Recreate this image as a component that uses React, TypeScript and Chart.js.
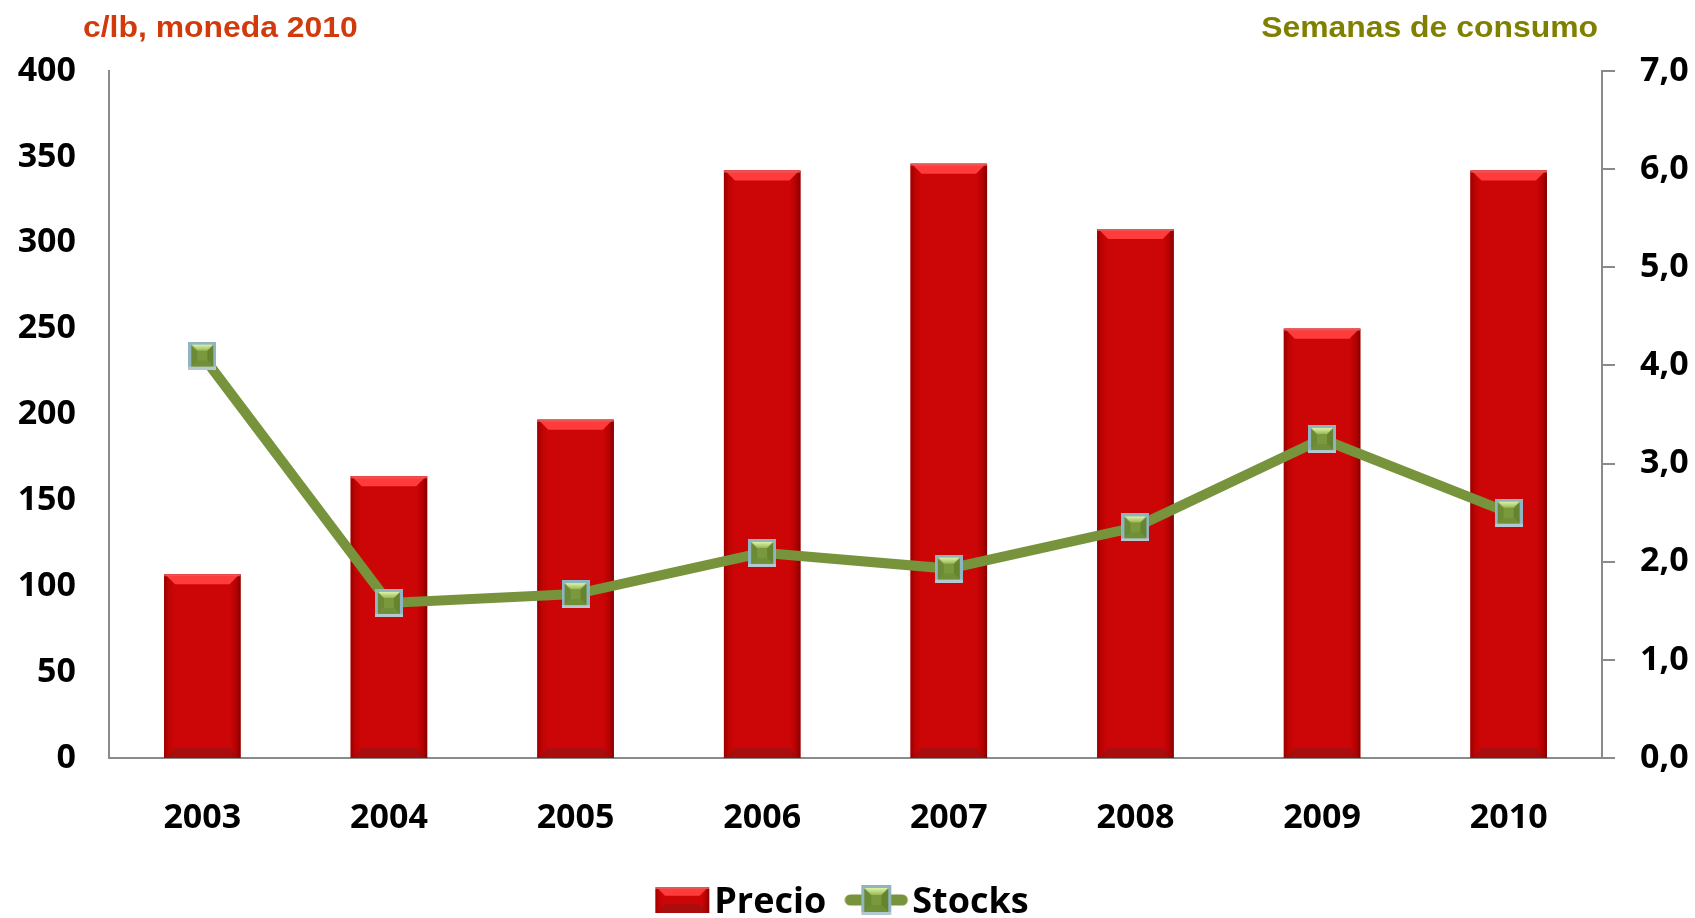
import React, { useEffect, useRef } from "react";
import { Chart, registerables } from "chart.js";

Chart.register(...registerables);

const categories = ["2003", "2004", "2005", "2006", "2007", "2008", "2009", "2010"];
const precio = [107, 164, 197, 342, 346, 308, 250, 342];
const stocks = [4.1, 1.58, 1.67, 2.09, 1.93, 2.35, 3.25, 2.5];
const seriesNames = ["Precio", "Stocks"];
const leftAxisTitle = "c/lb, moneda 2010";
const rightAxisTitle = "Semanas de consumo";
const leftRange = [0, 400, 50];
const rightRange = [0, 7, 1];

const TICK_FONT = { family: "'Open Sans', 'Liberation Sans', sans-serif", size: 34, weight: "bold" as const };
const AXIS_GRAY = "#8a8a8a";

function makeMarker(size: number): HTMLCanvasElement {
  const c = document.createElement("canvas");
  c.width = size;
  c.height = size;
  const g = c.getContext("2d")!;
  const b = 3;
  g.fillStyle = "#8FB5C2";
  g.fillRect(0, 0, size, size);
  g.fillStyle = "#B3C8D0";
  g.fillRect(0, size - b, size, b);
  g.fillStyle = "#7A983C";
  g.fillRect(b, b, size - 2 * b, size - 2 * b);
  const i0 = b, i1 = size - b, bev = Math.round(size * 0.22);
  g.fillStyle = "#6C8A35";
  g.beginPath();
  g.moveTo(i0, i0); g.lineTo(i0 + bev, i0 + bev); g.lineTo(i0 + bev, i1 - bev); g.lineTo(i0, i1); g.closePath(); g.fill();
  g.fillStyle = "#66842F";
  g.beginPath();
  g.moveTo(i1, i0); g.lineTo(i1 - bev, i0 + bev); g.lineTo(i1 - bev, i1 - bev); g.lineTo(i1, i1); g.closePath(); g.fill();
  g.fillStyle = "#718F37";
  g.beginPath();
  g.moveTo(i0, i1); g.lineTo(i0 + bev, i1 - bev); g.lineTo(i1 - bev, i1 - bev); g.lineTo(i1, i1); g.closePath(); g.fill();
  const gr = g.createLinearGradient(0, i0, 0, i0 + bev);
  gr.addColorStop(0, "#DDF3A8");
  gr.addColorStop(1, "#9BB955");
  g.fillStyle = gr;
  g.beginPath();
  g.moveTo(i0, i0); g.lineTo(i1, i0); g.lineTo(i1 - bev, i0 + bev); g.lineTo(i0 + bev, i0 + bev); g.closePath(); g.fill();
  return c;
}

function drawBevelBar(ctx: CanvasRenderingContext2D, l: number, t: number, r: number, b: number) {
  if (![l, t, r, b].every((v) => Number.isFinite(v))) return;
  const w = r - l;
  const g = ctx.createLinearGradient(l, 0, r, 0);
  g.addColorStop(0, "#9A0000");
  g.addColorStop(0.06, "#BE0303");
  g.addColorStop(0.14, "#CC0606");
  g.addColorStop(0.86, "#CC0606");
  g.addColorStop(0.94, "#B40202");
  g.addColorStop(1, "#860000");
  ctx.fillStyle = g;
  ctx.fillRect(l, t, w, b - t);
  const bev = Math.min(10, (b - t) / 3);
  ctx.fillStyle = "#FF3B3B";
  ctx.beginPath();
  ctx.moveTo(l + 1, t);
  ctx.lineTo(r - 1, t);
  ctx.lineTo(r - 1 - bev, t + bev);
  ctx.lineTo(l + 1 + bev, t + bev);
  ctx.closePath();
  ctx.fill();
  ctx.fillStyle = "rgba(230,90,90,0.9)";
  ctx.fillRect(l, t, w, 2);
  ctx.fillStyle = "rgba(140,20,20,0.55)";
  ctx.beginPath();
  ctx.moveTo(l + 1, b);
  ctx.lineTo(r - 1, b);
  ctx.lineTo(r - 1 - bev, b - bev);
  ctx.lineTo(l + 1 + bev, b - bev);
  ctx.closePath();
  ctx.fill();
}

// legend icons: content right-aligned at x=63, vertically centred slightly above the canvas centre
function makePrecioIcon(): HTMLCanvasElement {
  const c = document.createElement("canvas");
  c.width = 70;
  c.height = 36;
  const g = c.getContext("2d")!;
  drawBevelBar(g, 9, 2, 63, 28);
  return c;
}

function makeStocksIcon(): HTMLCanvasElement {
  const c = document.createElement("canvas");
  c.width = 70;
  c.height = 36;
  const g = c.getContext("2d")!;
  g.strokeStyle = "#77933C";
  g.lineWidth = 11;
  g.lineCap = "round";
  g.beginPath();
  g.moveTo(6, 15);
  g.lineTo(58, 15);
  g.stroke();
  g.drawImage(makeMarker(30), 17, 0);
  return c;
}

export default function App() {
  const ref = useRef<HTMLCanvasElement | null>(null);

  useEffect(() => {
    document.body.style.margin = "0";
    document.body.style.overflow = "hidden";
    const canvas = ref.current!;
    const marker = makeMarker(28);
    const precioIcon = makePrecioIcon();
    const stocksIcon = makeStocksIcon();

    const bevelPlugin = {
      id: "bevelBars",
      afterDatasetDraw(chart: any, args: any) {
        if (args.meta.type !== "bar") return;
        const ctx = chart.ctx as CanvasRenderingContext2D;
        ctx.save();
        args.meta.data.forEach((bar: any) => {
          const { x, y, base, width } = bar.getProps(["x", "y", "base", "width"], true);
          drawBevelBar(ctx, x - width / 2, y, x + width / 2, base);
        });
        ctx.restore();
      },
    };

    const titlesPlugin = {
      id: "axisTitles",
      afterDraw(chart: any) {
        const ctx = chart.ctx as CanvasRenderingContext2D;
        const area = chart.chartArea;
        const sx = 1.1;
        ctx.save();
        ctx.font = "bold 29px 'Liberation Sans', Arial, sans-serif";
        ctx.textBaseline = "alphabetic";
        ctx.scale(sx, 1);
        ctx.fillStyle = "#D13B0C";
        ctx.textAlign = "left";
        ctx.fillText(leftAxisTitle, (area.left - 26) / sx, 37);
        ctx.fillStyle = "#808000";
        ctx.textAlign = "right";
        ctx.fillText(rightAxisTitle, (area.right - 4) / sx, 37);
        ctx.restore();
      },
    };

    const chart = new Chart(canvas, {
      type: "bar",
      data: {
        labels: categories,
        datasets: [
          {
            type: "line",
            label: seriesNames[1],
            data: stocks,
            yAxisID: "y1",
            order: 0,
            borderColor: "#77933C",
            borderWidth: 10,
            pointStyle: marker as any,
            pointRadius: 14,
            pointHoverRadius: 14,
            tension: 0,
          } as any,
          {
            type: "bar",
            label: seriesNames[0],
            data: precio,
            yAxisID: "y",
            order: 1,
            backgroundColor: "#CC0606",
            borderWidth: 0,
            categoryPercentage: 1,
            barPercentage: 0.41,
          },
        ],
      },
      options: {
        animation: false,
        responsive: false,
        devicePixelRatio: 1,
        layout: { padding: { top: 71, left: 0, right: 0, bottom: -13 } },
        plugins: {
          tooltip: { enabled: false },
          legend: {
            position: "bottom",
            labels: {
              usePointStyle: true,
              pointStyleWidth: 30,
              padding: 38,
              color: "#000",
              font: { family: "'Open Sans', 'Liberation Sans', sans-serif", size: 36, weight: "bold" },
              generateLabels: (ch: any) => [
                {
                  text: ch.data.datasets[1].label,
                  pointStyle: precioIcon,
                  fillStyle: "#CC0606",
                  strokeStyle: "transparent",
                  lineWidth: 0,
                  hidden: false,
                  datasetIndex: 1,
                  fontColor: "#000",
                },
                {
                  text: ch.data.datasets[0].label,
                  pointStyle: stocksIcon,
                  fillStyle: "#77933C",
                  strokeStyle: "transparent",
                  lineWidth: 0,
                  hidden: false,
                  datasetIndex: 0,
                  fontColor: "#000",
                },
              ],
            },
          },
        },
        scales: {
          x: {
            grid: { display: false, drawTicks: false },
            border: { display: true, color: AXIS_GRAY, width: 2 },
            ticks: { color: "#000", font: TICK_FONT, padding: 40, maxRotation: 0 },
            afterFit: (s: any) => {
              s.height = 89;
            },
          },
          y: {
            position: "left",
            min: leftRange[0],
            max: leftRange[1],
            grid: { display: false, drawTicks: false },
            border: { display: true, color: AXIS_GRAY, width: 2 },
            ticks: { stepSize: leftRange[2], color: "#000", font: TICK_FONT, padding: 33 },
            afterFit: (s: any) => {
              s.width = 109;
            },
          },
          y1: {
            position: "right",
            min: rightRange[0],
            max: rightRange[1],
            grid: {
              display: true,
              drawOnChartArea: false,
              drawTicks: true,
              tickLength: 13,
              color: AXIS_GRAY,
              lineWidth: 2,
            },
            border: { display: true, color: AXIS_GRAY, width: 2 },
            ticks: {
              stepSize: rightRange[2],
              color: "#000",
              font: TICK_FONT,
              padding: 25,
              callback: (v: any) => Number(v).toFixed(1).replace(".", ","),
            },
            afterFit: (s: any) => {
              s.width = 93;
            },
          },
        },
      },
      plugins: [bevelPlugin, titlesPlugin],
    });

    return () => chart.destroy();
  }, []);

  return (
    <div style={{ width: 1695, height: 918 }}>
      <canvas ref={ref} width={1695} height={918} style={{ display: "block" }} />
    </div>
  );
}
